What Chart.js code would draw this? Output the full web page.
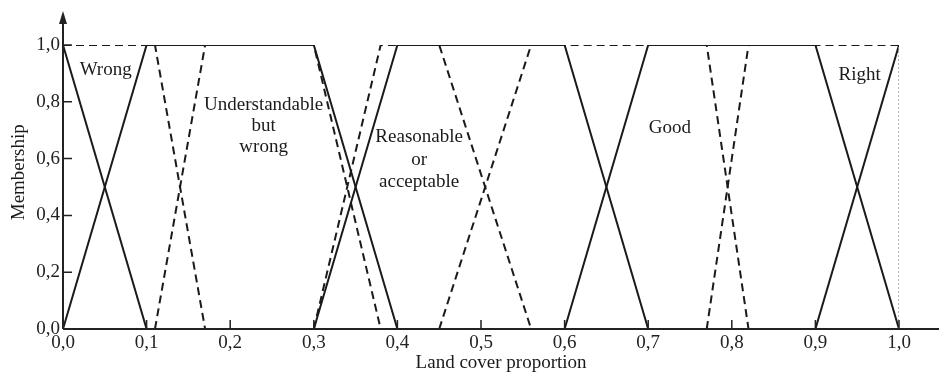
<!DOCTYPE html>
<html>
<head>
<meta charset="utf-8">
<script src="https://cdn.jsdelivr.net/npm/chart.js@4.4.1/dist/chart.umd.min.js"></script>
<style>
  html, body { margin: 0; padding: 0; background: #fff; }
  #wrap { width: 939px; height: 375px; position: relative; }
</style>
</head>
<body>
<div id="wrap"><canvas id="c" width="939" height="375"></canvas></div>
<script>
// ---- data ----
const xTickLabels = ['0,0','0,1','0,2','0,3','0,4','0,5','0,6','0,7','0,8','0,9','1,0'];
const yTickLabels = ['0,0','0,2','0,4','0,6','0,8','1,0'];

// solid membership functions (x, membership)
const wrongSolidX = [0, 0.1];
const wrongSolidY = [1, 0];
const understandSolidX = [0, 0.1, 0.3, 0.4];
const understandSolidY = [0, 1, 1, 0];
const reasonableSolidX = [0.3, 0.4, 0.6, 0.7];
const reasonableSolidY = [0, 1, 1, 0];
const goodSolidX = [0.6, 0.7, 0.9, 1.0];
const goodSolidY = [0, 1, 1, 0];
const rightSolidX = [0.9, 1.0];
const rightSolidY = [0, 1];

// dashed (alternative) membership functions
const wrongDashX = [0, 0.11, 0.17];
const wrongDashY = [1, 1, 0];
const understandDashX = [0.11, 0.17, 0.3, 0.38];
const understandDashY = [0, 1, 1, 0];
const reasonableDashX = [0.3, 0.38, 0.45, 0.56];
const reasonableDashY = [0, 1, 1, 0];
const goodDashX = [0.45, 0.56, 0.77, 0.82];
const goodDashY = [0, 1, 1, 0];
const rightDashX = [0.77, 0.82, 1.0];
const rightDashY = [0, 1, 1];

// dotted reference line at x = 1
const refLineX = [1.0, 1.0];
const refLineY = [0, 1];

const labelWrong = ['Wrong'];
const labelUnderstand = ['Understandable', 'but', 'wrong'];
const labelReasonable = ['Reasonable', 'or', 'acceptable'];
const labelGood = ['Good'];
const labelRight = ['Right'];
const xTitle = 'Land cover proportion';
const yTitle = 'Membership';

// ---- helpers ----
function pts(xs, ys) { return xs.map((x, i) => ({ x: x, y: ys[i] })); }
const INK = '#1a1a1a';
const FONT = '"Liberation Serif", "Times New Roman", serif';

function solid(xs, ys) {
  return { data: pts(xs, ys), showLine: true, borderColor: INK, borderWidth: 2,
           pointRadius: 0, fill: false, tension: 0 };
}
function dashed(xs, ys) {
  return { data: pts(xs, ys), showLine: true, borderColor: INK, borderWidth: 2,
           borderDash: [8, 5], pointRadius: 0, fill: false, tension: 0 };
}

const decor = {
  id: 'decor',
  afterDatasetsDraw(chart) {
    const ctx = chart.ctx;
    const xs = chart.scales.x, ys = chart.scales.y;
    const x0 = xs.getPixelForValue(0), y0 = ys.getPixelForValue(0);
    const y1 = ys.getPixelForValue(1);
    ctx.save();
    ctx.strokeStyle = '#222';
    ctx.fillStyle = '#222';
    ctx.lineWidth = 2;
    // axes
    ctx.beginPath();
    ctx.moveTo(x0, y0); ctx.lineTo(x0, 14);
    ctx.moveTo(x0, y0); ctx.lineTo(chart.width, y0);
    ctx.stroke();
    // y arrow head
    ctx.beginPath();
    ctx.moveTo(x0, 11); ctx.lineTo(x0 - 4, 24); ctx.lineTo(x0 + 4, 24); ctx.closePath();
    ctx.fill();
    // inward ticks
    ctx.lineWidth = 1.5;
    ctx.beginPath();
    for (let i = 0; i < xTickLabels.length; i++) {
      const p = xs.getPixelForValue(i / 10);
      ctx.moveTo(p, y0); ctx.lineTo(p, y0 - 9);
    }
    for (let i = 1; i < yTickLabels.length; i++) {
      const p = ys.getPixelForValue(i * 0.2);
      ctx.moveTo(x0, p); ctx.lineTo(x0 + 9, p);
    }
    ctx.stroke();
    // annotations
    ctx.fillStyle = '#1a1a1a';
    ctx.font = '19px ' + FONT;
    ctx.textAlign = 'center';
    ctx.textBaseline = 'middle';
    function block(lines, vx, vy, step) {
      const px = xs.getPixelForValue(vx), py = ys.getPixelForValue(vy);
      lines.forEach((t, i) => ctx.fillText(t, px, py + i * step));
    }
    block(labelWrong, 0.051, 0.912, 21);
    block(labelUnderstand, 0.240, 0.789, 21);
    block(labelReasonable, 0.426, 0.676, 22.5);
    block(labelGood, 0.726, 0.708, 21);
    block(labelRight, 0.953, 0.894, 21);
    // axis titles
    ctx.fillText(xTitle, xs.getPixelForValue(0.524), 363);
    ctx.save();
    ctx.translate(19, ys.getPixelForValue(0.552));
    ctx.rotate(-Math.PI / 2);
    ctx.fillText(yTitle, 0, 0);
    ctx.restore();
    ctx.restore();
  }
};

const ref = { data: pts(refLineX, refLineY), showLine: true, borderColor: '#9a9a9a',
              borderWidth: 1.5, borderDash: [2, 2], pointRadius: 0, fill: false };

new Chart(document.getElementById('c'), {
  type: 'scatter',
  data: {
    datasets: [
      ref,
      solid(wrongSolidX, wrongSolidY),
      solid(understandSolidX, understandSolidY),
      solid(reasonableSolidX, reasonableSolidY),
      solid(goodSolidX, goodSolidY),
      solid(rightSolidX, rightSolidY),
      dashed(wrongDashX, wrongDashY),
      dashed(understandDashX, understandDashY),
      dashed(reasonableDashX, reasonableDashY),
      dashed(goodDashX, goodDashY),
      dashed(rightDashX, rightDashY)
    ]
  },
  options: {
    responsive: false,
    animation: false,
    devicePixelRatio: 1,
    layout: { padding: { left: 0, right: 40, top: 45, bottom: 0 } },
    plugins: { legend: { display: false }, tooltip: { enabled: false } },
    scales: {
      x: {
        type: 'linear', min: 0, max: 1,
        grid: { display: false, drawTicks: false },
        border: { display: false },
        afterFit(s) { s.height = 46; },
        ticks: {
          stepSize: 0.1, autoSkip: false, maxRotation: 0, padding: 3,
          color: '#222', font: { family: FONT, size: 19 },
          callback: (v, i) => xTickLabels[i]
        }
      },
      y: {
        type: 'linear', min: 0, max: 1,
        grid: { display: false, drawTicks: false },
        border: { display: false },
        afterFit(s) { s.width = 63; },
        ticks: {
          stepSize: 0.2, autoSkip: false, padding: 3,
          color: '#222', font: { family: FONT, size: 19 },
          callback: (v, i) => yTickLabels[i]
        }
      }
    }
  },
  plugins: [decor]
});
</script>
</body>
</html>
